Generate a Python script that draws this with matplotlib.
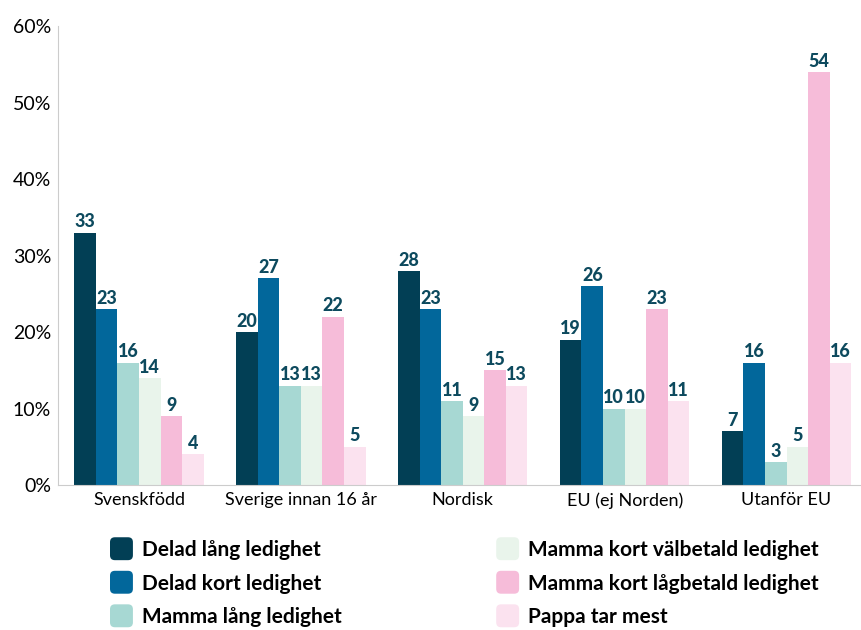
import matplotlib.pyplot as plt
import numpy as np
from matplotlib.patches import FancyBboxPatch, Patch
from matplotlib.legend_handler import HandlerBase

plt.rcParams['font.family'] = ['Lato', 'DejaVu Sans']

groups = ["Svenskfödd", "Sverige innan 16 år", "Nordisk", "EU (ej Norden)", "Utanför EU"]
series = ["Delad lång ledighet", "Delad kort ledighet", "Mamma lång ledighet",
          "Mamma kort välbetald ledighet", "Mamma kort lågbetald ledighet", "Pappa tar mest"]
delad_lang = [33, 20, 28, 19, 7]
delad_kort = [23, 27, 23, 26, 16]
mamma_lang = [16, 13, 11, 10, 3]
mamma_kort_val = [14, 13, 9, 10, 5]
mamma_kort_lag = [9, 22, 15, 23, 54]
pappa_mest = [4, 5, 13, 11, 16]
values = [delad_lang, delad_kort, mamma_lang, mamma_kort_val, mamma_kort_lag, pappa_mest]
colors = ["#023f55", "#02679b", "#a7d8d3", "#e9f4eb", "#f6bcd9", "#fbe2ef"]


class RoundHandler(HandlerBase):
    # rounded square legend keys
    def create_artists(self, legend, orig_handle, xdescent, ydescent, width, height, fontsize, trans):
        s = 16.5
        p = FancyBboxPatch((-xdescent, -ydescent + height / 2 - s / 2), s, s,
                           boxstyle="round,pad=0,rounding_size=3.5",
                           facecolor=orig_handle.get_facecolor(), edgecolor="none",
                           transform=trans)
        return [p]


fig = plt.figure(figsize=(8.61, 6.30), dpi=100)
ax = fig.add_axes([58 / 861, 1 - 485 / 630, 1 - 58 / 861, 459 / 630])

x = np.arange(len(groups))
w = 0.8 / len(series)
for i, (vals, c) in enumerate(zip(values, colors)):
    pos = x - 0.4 + w * (i + 0.5)
    ax.bar(pos, vals, width=w, color=c, label=series[i])
    for px, v in zip(pos, vals):
        ax.text(px, v + 0.3, str(v), ha="center", va="bottom", fontsize=13,
                fontweight="black", color="#0d4a5e")

ax.set_ylim(0, 60)
ax.set_xlim(-0.5, 4.46)
ax.set_yticks(range(0, 61, 10))
ax.set_yticklabels([f"{t}%" for t in range(0, 61, 10)], fontsize=14)
ax.set_xticks(x)
ax.set_xticklabels(groups, fontsize=13)
ax.tick_params(length=0, pad=5)
for s in ["top", "right"]:
    ax.spines[s].set_visible(False)
for s in ["left", "bottom"]:
    ax.spines[s].set_color("#cccccc")

handles = [Patch(facecolor=c) for c in colors]
fig.legend(handles, series, loc="upper left", bbox_to_anchor=(110 / 861, 1 - 540 / 630),
           ncol=2, frameon=False, handler_map={Patch: RoundHandler()},
           handlelength=1.1, handletextpad=0.45, columnspacing=7.4, labelspacing=0.65,
           borderpad=0, borderaxespad=0, prop={"size": 15, "weight": "bold"})

fig.savefig("out.png", dpi=100)
